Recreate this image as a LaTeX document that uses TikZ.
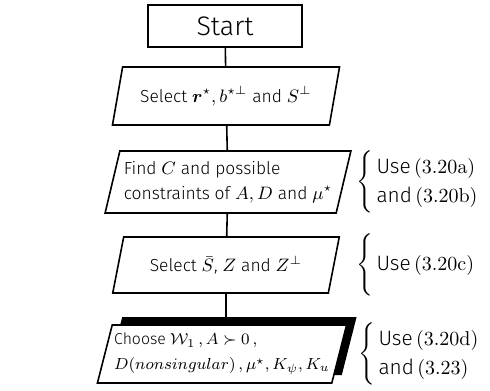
\documentclass[tikz,border=0pt]{standalone}
\usepackage{amsmath}
\usepackage{amssymb}
\usepackage[no-math]{fontspec}
\setmainfont{Fira Sans Light}
\usepackage{tikz}
\usetikzlibrary{shapes.geometric,shadows,positioning}

\begin{document}
\begin{tikzpicture}[x=0.5pt,y=-0.5pt,
  every node/.style={font=\fontsize{8.7}{12.5}\selectfont},
  startbox/.style={draw,line width=0.8pt,minimum width=77pt,minimum height=21pt,
    font=\fontsize{13.4}{15}\selectfont},
  iobox/.style={draw,line width=0.8pt,fill=white,trapezium,trapezium left angle=75,
    trapezium right angle=105,trapezium stretches=true,minimum width=114pt,minimum height=29pt,
    inner xsep=2pt},
  refs/.style={anchor=west,inner sep=0pt,font=\fontsize{10.4}{12.5}\selectfont},
  link/.style={line width=0.8pt}]
\useasboundingbox (0,0) rectangle (490,390);
\node[startbox] (start) at (225,26) {Start};
\node[iobox] (sel1) at (226,96) {Select $\boldsymbol{r}^\star,b^{\star\perp}$ and $S^\perp$};
\node[iobox,align=left,minimum width=117pt,minimum height=31pt] (find) at (228,182)
  {Find $C$ and possible\\constraints of $A,D$ and $\mu^\star$};
\node[iobox,minimum height=28pt] (sel2) at (226,265) {Select $\bar{S}$, $Z$ and $Z^\perp$};
\node[iobox,align=left,inner xsep=1pt,font=\fontsize{7.9}{12.5}\selectfont,
  drop shadow={shadow xshift=5pt,shadow yshift=4pt,fill=black,opacity=1}]
  (choose) at (222,354)
  {Choose $\mathcal{W}_1\,,A\succ 0\,,$\\$D(nonsingular)\,,\mu^\star,K_\psi,K_u$};
\draw[link] (start) -- (sel1);
\draw[link] (sel1) -- (find);
\draw[link] (find) -- (sel2);
\draw[link] (sel2) -- (sel2 |- choose.north);
\renewcommand{\arraystretch}{1.15}
\node[refs] (use1) at (356,182)
  {$\left\{\,\begin{array}{@{}l@{}}\text{Use}\,(3.20\mathrm{a})\\\text{and}\,(3.20\mathrm{b})\end{array}\right.$};
\node[refs] (use2) at (356,265)
  {$\left\{\vphantom{\begin{array}{@{}l@{}}A\\A\end{array}}\,\text{Use}\,(3.20\mathrm{c})\right.$};
\node[refs] (use3) at (358,354)
  {$\left\{\,\begin{array}{@{}l@{}}\text{Use}\,(3.20\mathrm{d})\\\text{and}\,(3.23)\end{array}\right.$};
\end{tikzpicture}
\end{document}
